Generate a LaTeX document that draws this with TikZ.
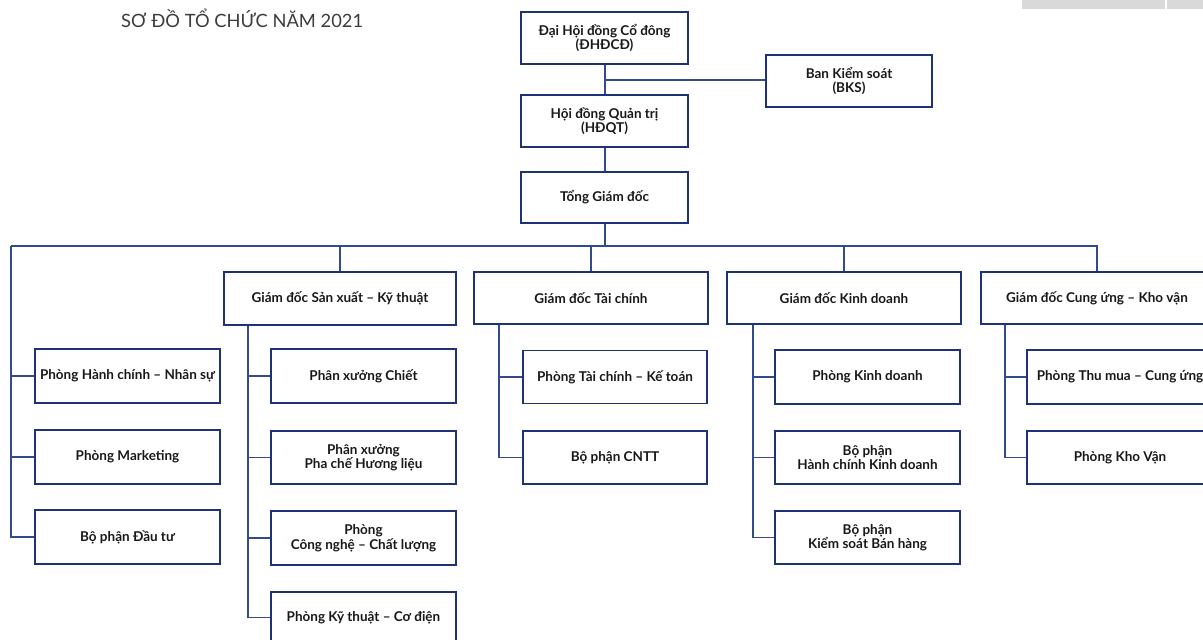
\documentclass[tikz,border=0pt]{standalone}
\usepackage{fontspec}
\setmainfont{Lato}
\definecolor{boxc}{RGB}{30,50,120}
\definecolor{linec}{RGB}{50,75,140}
\definecolor{titlec}{RGB}{60,60,60}
\definecolor{barc}{RGB}{217,217,217}
\tikzset{
  box/.style={draw=boxc, line width=1.1pt, fill=white, align=center, inner sep=0pt,
    font=\bfseries\fontsize{13.5}{14.5}\selectfont, text=black!90},
  conn/.style={draw=linec, line width=1.1pt},
}
\begin{document}
\begin{tikzpicture}[x=1pt,y=-1pt]
\useasboundingbox (0,0) rectangle (1203,640);
\clip (0,0) rectangle (1203,640);
\fill[white] (0,0) rectangle (1203,640);
\fill[barc] (1022,0) rectangle (1165,9);
\fill[barc] (1167,0) rectangle (1203,9);
\node[anchor=west, inner sep=0pt, font=\fontsize{18.3}{20}\selectfont, text=titlec] (title) at (121,18) {SƠ ĐỒ TỔ CHỨC NĂM 2021};

% top
\node[box, minimum width=167pt, minimum height=52pt] (dh) at (604.5,38) {Đại Hội đồng Cổ đông\\(ĐHĐCĐ)};
\node[box, minimum width=166pt, minimum height=52pt] (bks) at (849,81) {Ban Kiểm soát\\(BKS)};
\node[box, minimum width=167pt, minimum height=52pt] (hd) at (604.5,121) {Hội đồng Quản trị\\(HĐQT)};
\node[box, minimum width=167pt, minimum height=51pt] (tgd) at (604.5,197.5) {Tổng Giám đốc};

% level 2
\node[box, minimum width=232pt, minimum height=53pt] (sx) at (340,298.5) {Giám đốc Sản xuất – Kỹ thuật};
\node[box, minimum width=234pt, minimum height=52pt] (tc) at (591,298) {Giám đốc Tài chính};
\node[box, minimum width=234pt, minimum height=52pt] (kd) at (844,298) {Giám đốc Kinh doanh};
\node[box, minimum width=232pt, minimum height=52pt] (cu) at (1097,298) {Giám đốc Cung ứng – Kho vận};

% left column
\node[box, minimum width=185pt, minimum height=54pt] (hcns) at (127.5,376) {Phòng Hành chính – Nhân sự};
\node[box, minimum width=185pt, minimum height=54pt] (mkt) at (127.5,457) {Phòng Marketing};
\node[box, minimum width=185pt, minimum height=54pt] (dt) at (127.5,537) {Bộ phận Đầu tư};

% SX column
\node[box, minimum width=185pt, minimum height=54pt] (chiet) at (363.5,376) {Phân xưởng Chiết};
\node[box, minimum width=185pt, minimum height=53pt] (pc) at (363.5,457.5) {Phân xưởng\\Pha chế Hương liệu};
\node[box, minimum width=185pt, minimum height=54pt] (cncl) at (363.5,538) {Phòng\\Công nghệ – Chất lượng};
\node[box, minimum width=185pt, minimum height=51pt] (ktcd) at (363.5,617.5) {Phòng Kỹ thuật – Cơ điện};

% TC column
\node[box, minimum width=184pt, minimum height=53pt] (tckt) at (615,377) {Phòng Tài chính – Kế toán};
\node[box, minimum width=184pt, minimum height=53pt] (cntt) at (615,457.5) {Bộ phận CNTT};

% KD column
\node[box, minimum width=185pt, minimum height=54pt] (pkd) at (867.5,377) {Phòng Kinh doanh};
\node[box, minimum width=185pt, minimum height=53pt] (hckd) at (867.5,457.5) {Bộ phận\\Hành chính Kinh doanh};
\node[box, minimum width=185pt, minimum height=53pt] (ksbh) at (867.5,537.5) {Bộ phận\\Kiểm soát Bán hàng};

% CU column
\node[box, minimum width=186pt, minimum height=54pt] (tm) at (1120,377) {Phòng Thu mua – Cung ứng};
\node[box, minimum width=186pt, minimum height=53pt] (kv) at (1120,457.5) {Phòng Kho Vận};

% connectors top
\coordinate (mbks) at (605,80);
\draw[conn] (dh.south -| mbks) -- (hd.north -| mbks);
\draw[conn] (mbks) -- (bks.west |- mbks);
\draw[conn] (hd.south -| mbks) -- (tgd.north -| mbks);

% bus
\coordinate (b0) at (11,246);
\draw[conn] (tgd.south -| mbks) -- (mbks |- b0);
\draw[conn] (b0) -- (b0 -| cu.north) -- (cu.north);
\draw[conn] (sx.north |- b0) -- (sx.north);
\draw[conn] (tc.north |- b0) -- (tc.north);
\draw[conn] (kd.north |- b0) -- (kd.north);

% left column
\draw[conn] (b0) |- (dt.west);
\draw[conn] (b0 |- hcns.west) -- (hcns.west);
\draw[conn] (b0 |- mkt.west) -- (mkt.west);

% SX column
\coordinate (vsx) at (248,0);
\draw[conn] (sx.south -| vsx) |- (ktcd.west);
\draw[conn] (vsx |- chiet.west) -- (chiet.west);
\draw[conn] (vsx |- pc.west) -- (pc.west);
\draw[conn] (vsx |- cncl.west) -- (cncl.west);

% TC column
\coordinate (vtc) at (499,0);
\draw[conn] (tc.south -| vtc) |- (cntt.west);
\draw[conn] (vtc |- tckt.west) -- (tckt.west);

% KD column
\coordinate (vkd) at (753,0);
\draw[conn] (kd.south -| vkd) |- (ksbh.west);
\draw[conn] (vkd |- pkd.west) -- (pkd.west);
\draw[conn] (vkd |- hckd.west) -- (hckd.west);

% CU column
\coordinate (vcu) at (1005,0);
\draw[conn] (cu.south -| vcu) |- (kv.west);
\draw[conn] (vcu |- tm.west) -- (tm.west);
\end{tikzpicture}
\end{document}
